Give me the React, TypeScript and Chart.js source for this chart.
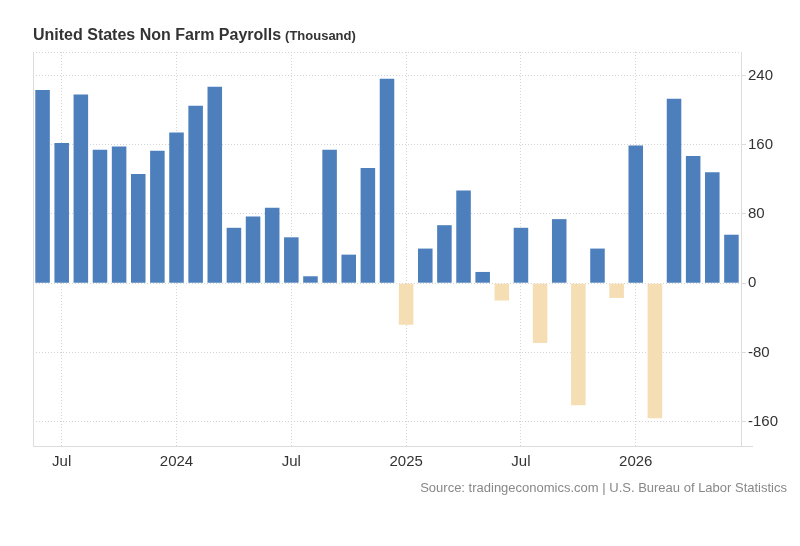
import React, { useEffect, useRef } from 'react';
import { Chart, registerables } from 'chart.js';

Chart.register(...registerables);

const MONTHS = [
  '2023-06', '2023-07', '2023-08', '2023-09', '2023-10', '2023-11', '2023-12',
  '2024-01', '2024-02', '2024-03', '2024-04', '2024-05', '2024-06',
  '2024-07', '2024-08', '2024-09', '2024-10', '2024-11', '2024-12',
  '2025-01', '2025-02', '2025-03', '2025-04', '2025-05', '2025-06',
  '2025-07', '2025-08', '2025-09', '2025-10', '2025-11', '2025-12',
  '2026-01', '2026-02', '2026-03', '2026-04', '2026-05', '2026-06',
];

const PAYROLLS = [
  223, 162, 218, 154, 158, 126, 153,
  174, 205, 227, 64, 77, 87,
  53, 8, 154, 33, 133, 236,
  -48, 40, 67, 107, 13, -20,
  64, -69, 74, -141, 40, -17,
  159, -156, 213, 147, 128, 56,
];

const Y_TICKS = [-160, -80, 0, 80, 160, 240];
const Y_MIN = -188;
const Y_MAX = 267;

const TITLE = 'United States Non Farm Payrolls';
const UNIT = '(Thousand)';
const SOURCE = 'Source: tradingeconomics.com | U.S. Bureau of Labor Statistics';

const POS_COLOR = '#4d7fbc';
const NEG_COLOR = '#f5deb3';
const GRID_COLOR = '#d4d4d4';
const FONT = '"Liberation Sans", Arial, Helvetica, sans-serif';

function xLabel(i: number): string {
  const m = MONTHS[i];
  if (!m) return '';
  const [y, mm] = m.split('-');
  if (mm === '01') return y;
  if (mm === '07') return 'Jul';
  return '';
}

const decorPlugin = {
  id: 'decor',
  afterDraw(chart: any) {
    const { ctx, chartArea } = chart;
    ctx.save();
    ctx.strokeStyle = '#dcdcdc';
    ctx.lineWidth = 1;
    ctx.beginPath();
    ctx.moveTo(Math.round(chartArea.left) + 0.5, chartArea.top);
    ctx.lineTo(Math.round(chartArea.left) + 0.5, chartArea.bottom);
    ctx.stroke();
    ctx.beginPath();
    ctx.moveTo(chartArea.left, Math.round(chartArea.bottom) + 0.5);
    ctx.lineTo(chartArea.right + 12, Math.round(chartArea.bottom) + 0.5);
    ctx.stroke();

    ctx.fillStyle = '#333333';
    ctx.textBaseline = 'alphabetic';
    ctx.textAlign = 'left';
    ctx.font = `bold 16px ${FONT}`;
    ctx.fillText(TITLE, 33, 40);
    const w = ctx.measureText(TITLE).width;
    ctx.font = `bold 13px ${FONT}`;
    ctx.fillText(UNIT, 33 + w + 4, 40);

    ctx.fillStyle = '#888888';
    ctx.font = `13px ${FONT}`;
    ctx.textAlign = 'right';
    ctx.fillText(SOURCE, 787, 492);
    ctx.restore();
  },
};

export default function App() {
  const ref = useRef<HTMLCanvasElement | null>(null);

  useEffect(() => {
    if (!ref.current) return;
    const chart = new Chart(ref.current, {
      type: 'bar',
      data: {
        labels: MONTHS,
        datasets: [
          {
            data: PAYROLLS,
            backgroundColor: PAYROLLS.map((v) => (v >= 0 ? POS_COLOR : NEG_COLOR)),
            borderWidth: 0,
            barPercentage: 0.76,
            categoryPercentage: 1,
          },
        ],
      },
      options: {
        responsive: false,
        animation: false,
        devicePixelRatio: 1,
        layout: { padding: { left: 33, top: 52, right: 0, bottom: 0 } },
        plugins: {
          legend: { display: false },
          tooltip: { enabled: false },
        },
        scales: {
          x: {
            type: 'category',
            offset: true,
            afterFit(scale: any) {
              scale.height = 100;
            },
            grid: {
              offset: false,
              drawTicks: false,
              color: (ctx: any) => (xLabel(ctx.index) ? GRID_COLOR : 'rgba(0,0,0,0)'),
            },
            border: { display: false, dash: [1, 2] },
            ticks: {
              autoSkip: false,
              maxRotation: 0,
              padding: 7,
              color: '#333333',
              font: { family: FONT, size: 15 },
              callback: (_v: any, i: number) => xLabel(i),
            },
          },
          y: {
            position: 'right',
            min: Y_MIN,
            max: Y_MAX,
            afterFit(scale: any) {
              scale.width = 59;
            },
            afterBuildTicks(scale: any) {
              scale.ticks = [Y_MIN, ...Y_TICKS, Y_MAX].map((v) => ({ value: v }));
            },
            grid: {
              drawTicks: true,
              tickLength: 5,
              color: (ctx: any) =>
                ctx.tick && ctx.tick.value === Y_MIN ? 'rgba(0,0,0,0)' : GRID_COLOR,
              tickColor: (ctx: any) =>
                ctx.tick && Y_TICKS.includes(ctx.tick.value) ? '#dcdcdc' : 'rgba(0,0,0,0)',
            },
            border: { display: true, color: '#dcdcdc', dash: [1, 2] },
            ticks: {
              padding: 2,
              color: '#333333',
              font: { family: FONT, size: 15 },
              callback: (v: any) => (Y_TICKS.includes(Number(v)) ? String(v) : ''),
            },
          },
        },
      },
      plugins: [decorPlugin],
    });
    return () => chart.destroy();
  }, []);

  return (
    <div style={{ position: 'absolute', left: 0, top: 0, width: 800, height: 546, background: '#fff' }}>
      <canvas ref={ref} width={800} height={546} style={{ width: 800, height: 546, display: 'block' }} />
    </div>
  );
}
